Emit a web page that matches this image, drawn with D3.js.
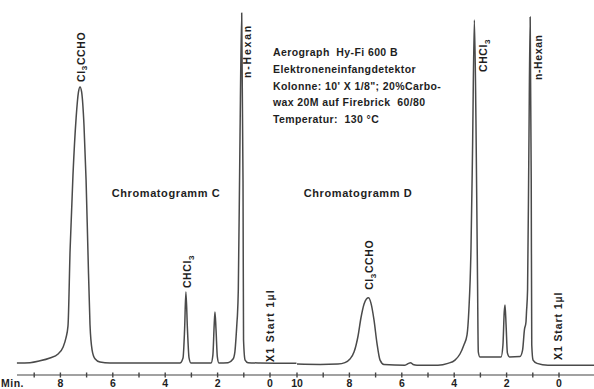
<!DOCTYPE html>
<html>
<head>
<meta charset="utf-8">
<script src="https://cdn.jsdelivr.net/npm/d3@7"></script>
<style>
  html, body { margin: 0; padding: 0; background: #fff; }
  svg { display: block; }
  text { font-family: "Liberation Sans", Arial, sans-serif; font-weight: bold; fill: #1e1e1e; }
</style>
</head>
<body>
<div id="container"></div>
<script>
/**
 * DATA  (time in minutes, signal in % of recorder full scale)
 * */
// Chromatogramm C
const traceC = [
  [9.66, 0], [9.16, 0.1], [8.78, 0.6], [8.40, 1.4], [8.09, 2.5], [7.90, 4.4],
  [7.79, 6.9], [7.71, 10.3], [7.63, 31.4], [7.52, 52.2], [7.40, 68.1], [7.31, 75.3],
  [7.25, 76.7], [7.19, 75.3], [7.10, 66.1], [7.02, 50.8], [6.95, 31.4], [6.87, 10.6],
  [6.79, 3.6], [6.68, 1.2], [6.49, 0.3], [6.11, 0], [3.44, 0], [3.32, 1.4],
  [3.26, 9.2], [3.21, 19.7], [3.15, 9.2], [3.09, 1.4], [3.02, 0], [2.25, 0],
  [2.18, 2.2], [2.13, 10.6], [2.10, 14.2], [2.06, 9.2], [2.01, 1.7], [1.95, 0],
  [1.60, 0.1], [1.41, 1.1], [1.34, 3.1], [1.29, 7.8], [1.26, 11.4], [1.244, 13.1],
  [1.21, 20.3], [1.15, 59.2], [1.08, 97.2], [1.03, 50.8], [1.01, 6.4], [0.95, 0.8],
  [0.84, 0.1], [0.38, 0], [-1.01, -0.1]
];

// Chromatogramm D
const traceD = [
  [10.0, -0.3], [9.12, -0.4], [8.44, -0.3], [8.17, 0.1], [7.98, 1.1], [7.82, 3.1],
  [7.67, 7.5], [7.56, 12.5], [7.44, 16.4], [7.35, 17.8], [7.27, 18.1], [7.18, 16.7],
  [7.06, 11.9], [6.95, 5.6], [6.83, 0.8], [6.68, -0.4], [5.88, -0.6], [5.74, -0.1],
  [5.67, 0.1], [5.57, -0.4], [5.42, -0.6], [4.62, -0.6], [4.24, -0.1], [3.97, 0.8],
  [3.78, 2.5], [3.63, 5.0], [3.51, 7.8], [3.44, 14.7], [3.36, 31.4], [3.30, 59.2],
  [3.23, 95.3], [3.17, 67.5], [3.11, 23.1], [3.08, 3.1], [3.02, 1.7], [2.21, 1.7],
  [2.14, 5.0], [2.09, 14.2], [2.06, 16.1], [2.02, 10.6], [1.97, 2.8], [1.89, 1.7],
  [1.49, 1.8], [1.39, 3.6], [1.32, 9.2], [1.26, 11.4], [1.24, 14.2], [1.20, 20.3],
  [1.15, 59.2], [1.10, 96.1], [1.06, 50.8], [1.04, 5.0], [0.99, 0.8], [0.84, -0.1],
  [0.42, -0.6], [-1.34, -0.6]
];

// minute ticks on the time axis
const ticksC = [0, 1, 2, 3, 4, 5, 6, 7, 8, 9];
const ticksD = [0, 1, 2, 3, 4, 5, 6, 7, 8, 9, 10];
const tickLabelsC = [0, 2, 4, 6, 8];
const tickLabelsD = [0, 2, 4, 6, 8, 10];

// peaks: name and retention time (min)
const peaksC = [
  { name: "Cl3CCHO", t: 7.25 },
  { name: "CHCl3", t: 3.21 },
  { name: "n-Hexan", t: 1.08 }
];
const peaksD = [
  { name: "Cl3CCHO", t: 7.27 },
  { name: "CHCl3", t: 3.23 },
  { name: "n-Hexan", t: 1.10 }
];

const infoLines = [
  "Aerograph  Hy-Fi 600 B",
  "Elektroneneinfangdetektor",
  "Kolonne: 10' X 1/8\"; 20%Carbo-",
  "wax 20M auf Firebrick  60/80",
  "Temperatur:  130 °C"
];

/**
 * LAYOUT
 * */
const width = 594, height = 389;
const axisY = 375;

const svg = d3.select("#container")
  .append("svg")
  .attr("width", width)
  .attr("height", height);

svg.append("rect").attr("width", width).attr("height", height).attr("fill", "#fff");

// same recorder paper, two runs side by side -> two time scales
const xC = d3.scaleLinear().domain([10, 0]).range([8, 270]);
const xD = d3.scaleLinear().domain([10, 0]).range([297, 559]);
const y = d3.scaleLinear().domain([0, 100]).range([363, 3]);

function drawTrace(data, x) {
  const line = d3.line()
    .x(d => x(d[0]))
    .y(d => y(d[1]))
    .curve(d3.curveMonotoneX);
  svg.append("path")
    .datum(data)
    .attr("d", line)
    .attr("fill", "none")
    .attr("stroke", "#4a4a4a")
    .attr("stroke-width", 1.5)
    .attr("stroke-linejoin", "round");
}
drawTrace(traceC, xC);
drawTrace(traceD, xD);

// time axis
svg.append("line")
  .attr("x1", 17).attr("x2", width)
  .attr("y1", axisY).attr("y2", axisY)
  .attr("stroke", "#444").attr("stroke-width", 1.2);

function drawTicks(ticks, labels, x) {
  svg.append("g").selectAll("line")
    .data(ticks)
    .join("line")
    .attr("x1", d => x(d)).attr("x2", d => x(d))
    .attr("y1", axisY - 2.5).attr("y2", axisY + 2.5)
    .attr("stroke", "#444").attr("stroke-width", 1.4);
  svg.append("g").selectAll("text")
    .data(labels)
    .join("text")
    .attr("x", d => x(d))
    .attr("y", 387)
    .attr("text-anchor", "middle")
    .style("font-size", "10.5px")
    .text(d => d);
}
drawTicks(ticksC, tickLabelsC, xC);
drawTicks(ticksD, tickLabelsD, xD);

svg.append("text")
  .attr("x", 1).attr("y", 387)
  .style("font-size", "10.5px")
  .style("letter-spacing", "0.5px")
  .text("Min.");

// rotated labels, bottom at (bx, by)
function vLabel(bx, by, txt, spacing) {
  const t = svg.append("text")
    .attr("transform", `translate(${bx},${by}) rotate(-90)`)
    .attr("dy", "0.36em")
    .style("font-size", "10.5px")
    .style("letter-spacing", (spacing || 0.6) + "px");
  const m = txt.match(/^(.*?)3(.*)$/);
  if (m && txt.indexOf("Cl") >= 0) {
    t.append("tspan").text(m[1]);
    t.append("tspan").attr("dy", "2.5").style("font-size", "8px").text("3");
    t.append("tspan").attr("dy", "-2.5").text(m[2]);
  } else {
    t.text(txt);
  }
}

// peak annotations C
vLabel(xC(peaksC[0].t) + 1, y(76.7) - 5, peaksC[0].name);
vLabel(xC(peaksC[1].t) + 1.5, y(19.7) - 4, peaksC[1].name);
vLabel(xC(peaksC[2].t) + 6, 78, peaksC[2].name, 1.8);
vLabel(xC(0), 362, "X1 Start  1\u00b5l", 1.3);

// peak annotations D
vLabel(xD(peaksD[0].t) + 1, y(18.1) - 8, peaksD[0].name);
vLabel(xD(peaksD[1].t) + 9, 72, peaksD[1].name);
vLabel(xD(peaksD[2].t) + 8, 80, peaksD[2].name);
vLabel(xD(0) - 1, 360, "X1 Start  1\u00b5l", 0.9);

svg.append("text")
  .attr("x", 166).attr("y", 197)
  .attr("text-anchor", "middle")
  .style("font-size", "11px")
  .style("letter-spacing", "0.6px")
  .text("Chromatogramm C");

svg.append("text")
  .attr("x", 358).attr("y", 197)
  .attr("text-anchor", "middle")
  .style("font-size", "11px")
  .style("letter-spacing", "0.6px")
  .text("Chromatogramm D");

svg.append("g").selectAll("text")
  .data(infoLines)
  .join("text")
  .attr("x", 273)
  .attr("y", (d, i) => 56 + i * 16.8)
  .attr("xml:space", "preserve")
  .style("white-space", "pre")
  .style("font-size", "10.5px")
  .style("letter-spacing", "0.4px")
  .text(d => d);
</script>
</body>
</html>
